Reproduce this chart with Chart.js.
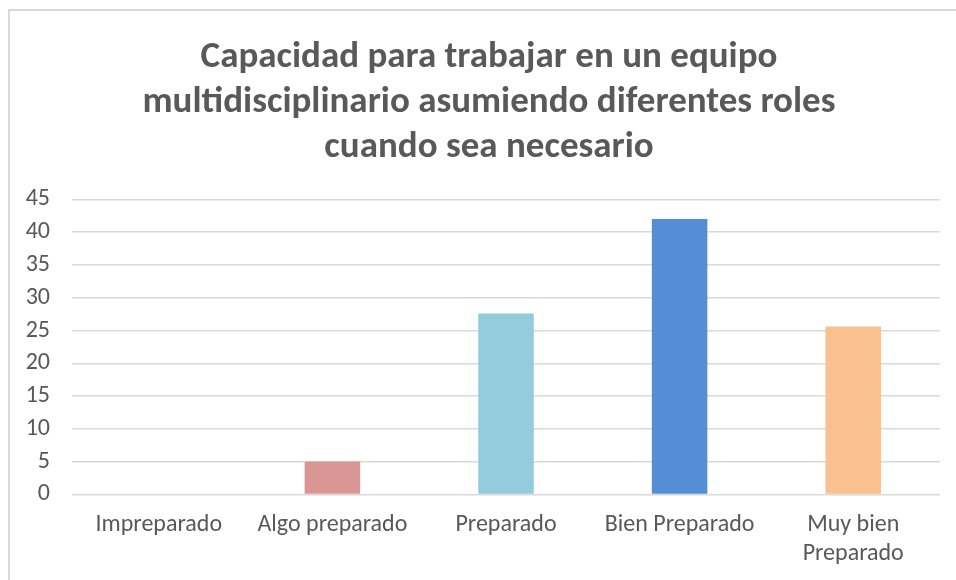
<!DOCTYPE html>
<html>
<head>
<meta charset="utf-8">
<script src="https://cdn.jsdelivr.net/npm/chart.js@4"></script>
<style>
  body { margin: 0; background: #fff; }
  #wrap { position: relative; width: 956px; height: 580px; overflow: hidden; }
  #frame { position: absolute; left: 8px; top: 9px; width: 1000px; height: 600px;
           border-left: 2px solid #d9d9d9; border-top: 2px solid #d9d9d9; }
  #grafico { position: absolute; left: 0; top: 0; }
</style>
</head>
<body>
<div id="wrap">
  <div id="frame"></div>
  <canvas id="grafico" width="956" height="580"></canvas>
</div>
<script>
const categorias = ['Impreparado', 'Algo preparado', 'Preparado', 'Bien Preparado', ['Muy bien', 'Preparado']];
const valores = [0, 5, 27.6, 42, 25.6];
const colores = ['#4f81bd', '#d99694', '#93cddd', '#558ed5', '#fac090'];
const tituloLineas = ['Capacidad para trabajar en un equipo', 'multidisciplinario asumiendo diferentes roles', 'cuando sea necesario'];
const yMin = 0, yMax = 45, yPaso = 5;

const fuente = 'Carlito, Lato, "Liberation Sans", sans-serif';
const gris = '#595959';

const canvas = document.getElementById('grafico');

// the title in the original sits a bit right of the canvas centre
const moverTitulo = {
    id: 'moverTitulo',
    afterLayout: (chart) => {
        if (chart.titleBlock) chart.titleBlock.left = 38;
    }
};

new Chart(canvas, {
    type: 'bar',
    data: {
        labels: categorias,
        datasets: [{
            data: valores,
            backgroundColor: colores,
            borderWidth: 0,
            categoryPercentage: 1,
            barPercentage: 0.32
        }]
    },
    options: {
        responsive: false,
        animation: false,
        layout: { padding: { left: 4, right: 16, top: 10, bottom: -4 } },
        plugins: {
            legend: { display: false },
            tooltip: { enabled: false },
            title: {
                display: true,
                text: tituloLineas,
                color: gris,
                font: { family: fuente, size: 37, weight: 'bold', lineHeight: 1.22 },
                padding: { top: 25, bottom: 29 }
            }
        },
        scales: {
            x: {
                grid: { display: false, drawTicks: false },
                border: { display: false },
                ticks: {
                    color: gris,
                    font: { family: fuente, size: 24, lineHeight: 1.2 },
                    padding: 16,
                    maxRotation: 0,
                    autoSkip: false
                }
            },
            y: {
                min: yMin,
                max: yMax,
                grid: { color: '#d9d9d9', lineWidth: 1.5, drawTicks: false },
                border: { display: false },
                afterFit: (scale) => { scale.width = 68; },
                ticks: {
                    stepSize: yPaso,
                    color: gris,
                    font: { family: fuente, size: 24 },
                    padding: 22
                }
            }
        }
    },
    plugins: [moverTitulo]
});
</script>
</body>
</html>
